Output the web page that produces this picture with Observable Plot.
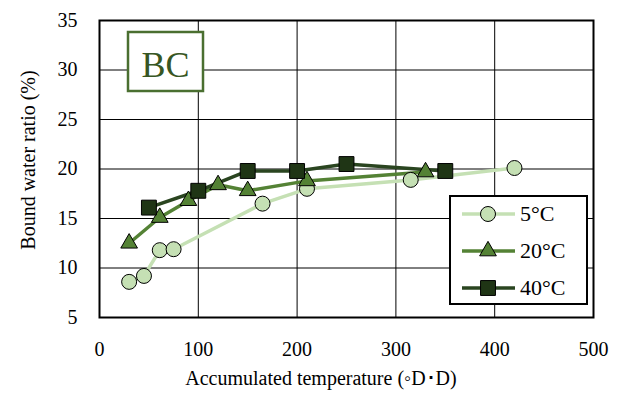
<!DOCTYPE html>
<html>
<head>
<meta charset="utf-8">
<script src="https://cdn.jsdelivr.net/npm/d3@7"></script>
<script src="https://cdn.jsdelivr.net/npm/@observablehq/plot@0.6"></script>
<style>
html,body{margin:0;padding:0;background:#fff;font-family:"Liberation Serif","Times New Roman",serif;}
#wrap{position:relative;width:623px;height:403px;}
#chart svg{display:block;}
svg text{font-family:"Liberation Serif","Times New Roman",serif !important;}
.lab{position:absolute;font-family:"Liberation Serif","Times New Roman",serif;color:#000;white-space:nowrap;line-height:1;}
</style>
</head>
<body>
<div id="wrap">
  <div id="chart"></div>
  <div id="xtitle" class="lab" style="left:0;width:642px;top:368px;font-size:20px;text-align:center;"></div>
  <div id="ytitle" class="lab" style="left:-121.8px;top:150px;width:300px;height:20px;font-size:20px;text-align:center;transform:rotate(-90deg);"></div>
  <div id="bc" class="lab" style="left:115.5px;width:100px;top:47px;font-size:36px;text-align:center;color:#375623;"></div>
  <div id="legend"></div>
</div>
<script>
const seriesNames = ["5°C", "20°C", "40°C"];
const xTitle = "Accumulated temperature (◦D･D)";
const yTitle = "Bound water ratio (%)";
const panelLabel = "BC";
const x5 = [30, 45, 61, 75, 165, 210, 315, 420];
const y5 = [8.6, 9.2, 11.8, 11.9, 16.5, 18.0, 18.9, 20.1];
const x20 = [30, 61, 90, 120, 150, 210, 330];
const y20 = [12.5, 15.1, 16.8, 18.4, 17.8, 18.8, 19.7];
const x40 = [50, 100, 150, 200, 250, 350];
const y40 = [16.1, 17.8, 19.8, 19.8, 20.5, 19.8];
const xTicks = [0, 100, 200, 300, 400, 500];
const yTicks = [5, 10, 15, 20, 25, 30, 35];

const lineColors = ["#c5e0b4", "#548235", "#2a4520"];
const fillColors = ["#c5e0b4", "#548235", "#1f3515"];
const symbols = ["circle", "triangle", "square"];
const radii = [7.5, 6.2, 8.4];
const FONT = "Liberation Serif, Times New Roman, serif";

document.getElementById("xtitle").textContent = xTitle;
document.getElementById("ytitle").textContent = yTitle;
document.getElementById("bc").textContent = panelLabel;
const rowY = [214, 251, 288];
const legendHost = document.getElementById("legend");
seriesNames.forEach((name, i) => {
  const d = document.createElement("div");
  d.className = "lab";
  d.style.left = "520px";
  d.style.top = (rowY[i] + 7.7 - 18.4) + "px";
  d.style.fontSize = "22px";
  d.textContent = name;
  legendHost.appendChild(d);
});

const toRows = (xs, ys, s) => xs.map((x, i) => ({x, y: ys[i], s}));
const sets = [toRows(x5, y5, 0), toRows(x20, y20, 1), toRows(x40, y40, 2)];

const marks = [
  Plot.gridX(xTicks, {stroke: "#000", strokeOpacity: 1, strokeWidth: 1}),
  Plot.gridY(yTicks, {stroke: "#000", strokeOpacity: 1, strokeWidth: 1}),
  Plot.axisX(xTicks, {tickSize: 0, tickPadding: 24, fontSize: 20, label: null}),
  Plot.axisY(yTicks, {tickSize: 0, tickPadding: 22, fontSize: 20, label: null})
];
sets.forEach((rows, i) => {
  marks.push(Plot.line(rows, {x: "x", y: "y", stroke: lineColors[i], strokeWidth: 3.5}));
});
sets.forEach((rows, i) => {
  marks.push(Plot.dot(rows, {x: "x", y: "y", symbol: () => symbols[i], r: radii[i], fill: fillColors[i], stroke: "#000", strokeWidth: 1}));
});
marks.push(Plot.frame({stroke: "#000", strokeWidth: 2}));

const plot = Plot.plot({
  width: 623, height: 403,
  marginLeft: 99, marginRight: 30, marginTop: 20, marginBottom: 86,
  style: {fontFamily: FONT, fontSize: "20px", color: "#000", background: "#fff"},
  x: {domain: [0, 500]},
  y: {domain: [5, 35]},
  symbol: {type: "identity"},
  marks
});
plot.setAttribute("font-family", FONT);

const svg = d3.select(plot);
svg.append("rect").attr("x", 128).attr("y", 32).attr("width", 75).attr("height", 59)
  .attr("fill", "#fff").attr("stroke", "#4a6f30").attr("stroke-width", 2.5);
const lg = svg.append("g");
lg.append("rect").attr("x", 450).attr("y", 196).attr("width", 137).attr("height", 108)
  .attr("fill", "#fff").attr("stroke", "#000").attr("stroke-width", 2);
seriesNames.forEach((name, i) => {
  const y = rowY[i];
  lg.append("line").attr("x1", 462).attr("x2", 515).attr("y1", y).attr("y2", y)
    .attr("stroke", lineColors[i]).attr("stroke-width", 3.5);
  const sym = {circle: d3.symbolCircle, triangle: d3.symbolTriangle, square: d3.symbolSquare}[symbols[i]];
  lg.append("path").attr("transform", `translate(488,${y})`)
    .attr("d", d3.symbol(sym, Math.PI * radii[i] * radii[i])())
    .attr("fill", fillColors[i]).attr("stroke", "#000").attr("stroke-width", 1);
});
svg.selectAll("text").attr("font-family", FONT).style("font-family", FONT);
document.getElementById("chart").appendChild(plot);
</script>
</body>
</html>
